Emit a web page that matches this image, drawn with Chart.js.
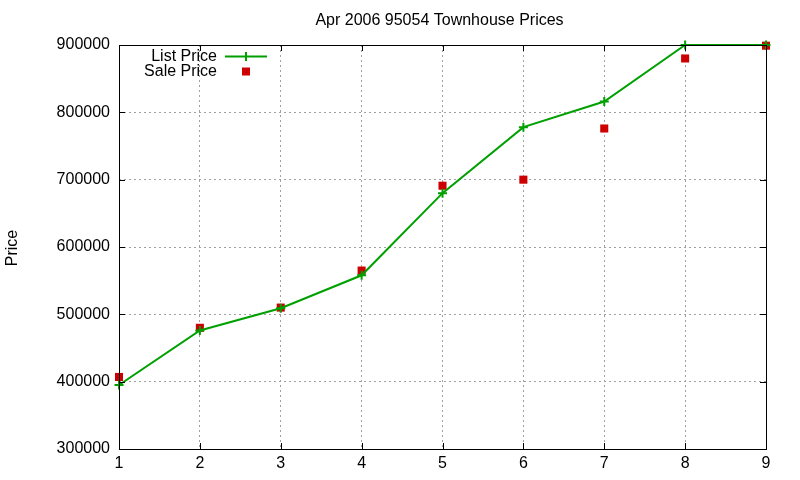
<!DOCTYPE html>
<html>
<head>
<meta charset="utf-8">
<script src="https://cdn.jsdelivr.net/npm/chart.js@4"></script>
<style>
html,body{margin:0;padding:0;background:#fff;}
#wrap{width:800px;height:480px;}
</style>
</head>
<body>
<div id="wrap"><canvas id="c" width="800" height="480"></canvas></div>
<script>
const categories = [1, 2, 3, 4, 5, 6, 7, 8, 9];
const listPrice = [395000, 476000, 509000, 558000, 680000, 778000, 816000, 900000, 900000];
const salePrice = [407000, 480000, 510000, 565000, 691000, 700000, 776000, 880000, 899000];
const yTicks = [300000, 400000, 500000, 600000, 700000, 800000, 900000];
const chartTitle = 'Apr 2006 95054 Townhouse Prices';
const yTitle = 'Price';

const FONT = 'Liberation Sans, Arial, sans-serif';

const frame = {
  id: 'frame',
  afterDatasetsDraw(chart) {
    const {ctx, chartArea: a, scales: {x, y}} = chart;
    ctx.save();
    ctx.strokeStyle = '#000';
    ctx.lineWidth = 1;
    ctx.beginPath();
    categories.forEach(v => {
      const px = Math.round(x.getPixelForValue(v)) + 0.5;
      ctx.moveTo(px, a.bottom); ctx.lineTo(px, a.bottom - 6);
      ctx.moveTo(px, a.top); ctx.lineTo(px, a.top + 6);
    });
    yTicks.forEach(v => {
      const py = Math.round(y.getPixelForValue(v)) + 0.5;
      ctx.moveTo(a.left, py); ctx.lineTo(a.left + 6, py);
      ctx.moveTo(a.right, py); ctx.lineTo(a.right - 6, py);
    });
    ctx.stroke();
    ctx.strokeRect(Math.round(a.left) + 0.5, Math.round(a.top) + 0.5, Math.round(a.right - a.left), Math.round(a.bottom - a.top));
    // title
    ctx.font = '16px ' + FONT;
    ctx.fillStyle = '#000';
    ctx.textAlign = 'center';
    ctx.textBaseline = 'middle';
    ctx.fillText(chartTitle, (a.left + a.right) / 2 - 3, 21);
    // legend (gnuplot style: text right-aligned, sample to the right)
    ctx.textAlign = 'right';
    const ds = chart.data.datasets;
    const lx = 217, sx0 = 225, sx1 = 267, sc = 246;
    const rows = [56.5, 71.5];
    ctx.fillText(ds[0].label, lx, rows[0]);
    ctx.fillText(ds[1].label, lx, rows[1]);
    ctx.strokeStyle = ds[0].borderColor;
    ctx.lineWidth = 2;
    ctx.beginPath();
    ctx.moveTo(sx0, rows[0]); ctx.lineTo(sx1, rows[0]);
    ctx.moveTo(sc, rows[0] - 4.5); ctx.lineTo(sc, rows[0] + 4.5);
    ctx.stroke();
    ctx.fillStyle = ds[1].backgroundColor;
    ctx.fillRect(sc - 4, rows[1] - 4, 8, 8);
    // y-axis title
    ctx.fillStyle = '#000';
    ctx.translate(13, 248);
    ctx.rotate(-Math.PI / 2);
    ctx.textAlign = 'center';
    ctx.fillText(yTitle, 0, 0);
    ctx.restore();
  }
};

new Chart(document.getElementById('c'), {
  type: 'line',
  data: {
    datasets: [
      {
        label: 'List Price',
        data: categories.map((c, i) => ({x: c, y: listPrice[i]})),
        borderColor: '#00a000',
        backgroundColor: '#00a000',
        borderWidth: 2,
        pointStyle: 'cross',
        pointRadius: 4.5,
        pointBorderWidth: 2,
        pointHoverRadius: 4.5,
        tension: 0,
        fill: false,
        clip: 5
      },
      {
        label: 'Sale Price',
        data: categories.map((c, i) => ({x: c, y: salePrice[i]})),
        borderColor: '#cc0000',
        backgroundColor: '#cc0000',
        showLine: false,
        pointStyle: 'rect',
        pointRadius: 5.7,
        pointBorderWidth: 0,
        pointHoverRadius: 5.7,
        clip: 8
      }
    ]
  },
  options: {
    responsive: false,
    animation: false,
    events: [],
    layout: {padding: {left: 0, right: 34, top: 45, bottom: 0}},
    plugins: {
      legend: {display: false},
      tooltip: {enabled: false},
      title: {display: false}
    },
    scales: {
      x: {
        type: 'linear',
        min: 1, max: 9,
        afterFit(s) { s.height = 31; },
        afterBuildTicks(s) { s.ticks = categories.map(v => ({value: v})); },
        grid: {display: true, drawTicks: false, color: '#a0a0a0', lineWidth: 1},
        border: {display: false, dash: [2, 3]},
        ticks: {color: '#000', padding: 5, font: {family: FONT, size: 16}, callback: v => String(v)}
      },
      y: {
        type: 'linear',
        min: 300000, max: 900000,
        afterFit(s) { s.width = 119; },
        afterBuildTicks(s) { s.ticks = yTicks.map(v => ({value: v})); },
        grid: {display: true, drawTicks: false, color: '#a0a0a0', lineWidth: 1},
        border: {display: false, dash: [2, 3]},
        ticks: {color: '#000', padding: 9, font: {family: FONT, size: 16}, callback: v => String(v)}
      }
    }
  },
  plugins: [frame]
});
</script>
</body>
</html>
